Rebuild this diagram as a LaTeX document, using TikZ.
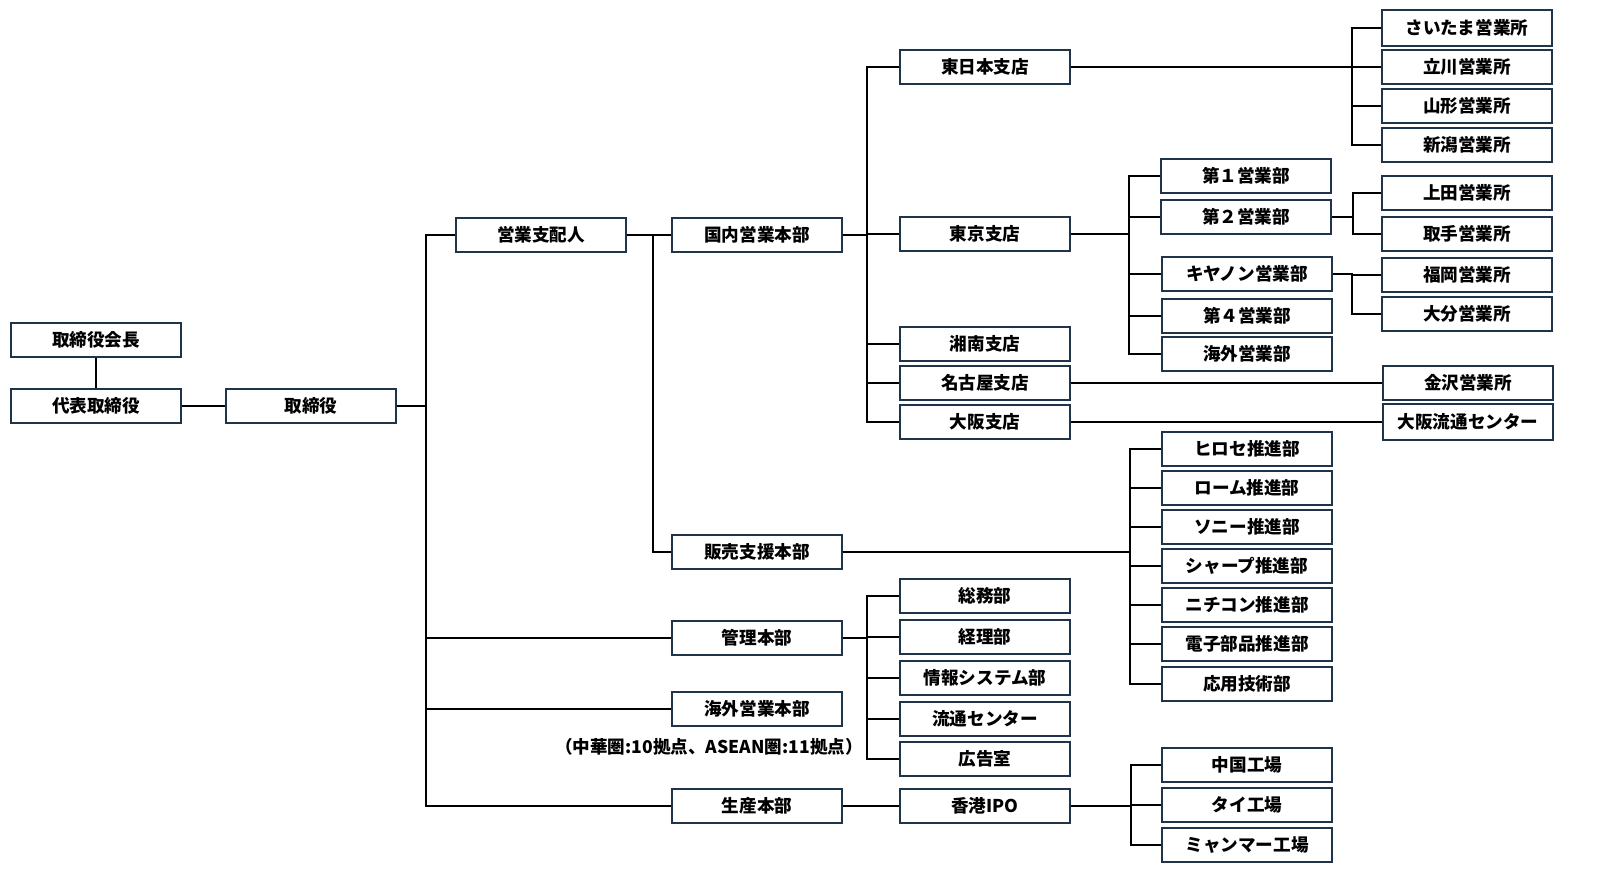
\documentclass[tikz,border=0pt]{standalone}
\usepackage{fontspec}
\setmainfont{Noto Sans CJK JP}
\definecolor{boxc}{HTML}{1F3349}
\tikzset{
  box/.style={draw=boxc, line width=1.1pt, fill=white, minimum width=127.5pt, minimum height=25.5pt, inner sep=0pt, font=\bfseries\fontsize{13.2}{14}\selectfont},
  conn/.style={line width=0.9pt, black},
  note/.style={inner sep=0pt, font=\bfseries\fontsize{13.2}{14}\selectfont}
}
\begin{document}
\begin{tikzpicture}[x=0.75pt,y=-0.75pt]
\useasboundingbox (0,0) rectangle (1606,891);
% bus coordinates
\coordinate (bT) at (426,0);
\coordinate (bS) at (653,0);
\coordinate (bK) at (867,0);
\coordinate (bH) at (1352,0);
\coordinate (bTk) at (1129,0);
\coordinate (bD2) at (1353,0);
\coordinate (bCa) at (1352,0);
\coordinate (bHb) at (1130,0);
\coordinate (bKr) at (867,0);
\coordinate (bHk) at (1131,0);
% nodes
\node[box] (kaicho) at (96,340) {取締役会長};
\node[box] (daihyo) at (96,406) {代表取締役};
\node[box] (tor) at (311,406) {取締役};
\node[box] (shihai) at (541,235) {営業支配人};
\node[box] (kokunai) at (757,235) {国内営業本部};
\node[box] (hanbai) at (757,552) {販売支援本部};
\node[box] (kanri) at (757,638) {管理本部};
\node[box] (kaigai) at (757,709) {海外営業本部};
\node[note] (kaigainote) at (709,747) {（中華圏:10拠点、ASEAN圏:11拠点）};
\node[box] (seisan) at (757,806) {生産本部};
% kokunai children
\node[box] (higashi) at (985,67) {東日本支店};
\node[box] (tokyo) at (985,234) {東京支店};
\node[box] (shonan) at (985,344) {湘南支店};
\node[box] (nagoya) at (985,383) {名古屋支店};
\node[box] (osaka) at (985,422) {大阪支店};
% higashi children
\node[box, minimum height=27pt] (saitama) at (1467,28) {さいたま営業所};
\node[box] (tachikawa) at (1467,67) {立川営業所};
\node[box] (yamagata) at (1467,106) {山形営業所};
\node[box] (niigata) at (1467,145) {新潟営業所};
% tokyo children
\node[box] (dai1) at (1246,176) {第１営業部};
\node[box] (dai2) at (1246,217) {第２営業部};
\node[box] (canon) at (1247,274) {キヤノン営業部};
\node[box] (dai4) at (1247,316) {第４営業部};
\node[box] (kaigaieigyo) at (1247,354) {海外営業部};
\node[box] (ueda) at (1467,193) {上田営業所};
\node[box] (toride) at (1467,234) {取手営業所};
\node[box] (fukuoka) at (1467,275) {福岡営業所};
\node[box] (oita) at (1467,314) {大分営業所};
\node[box] (kanazawa) at (1468,383) {金沢営業所};
\node[box, minimum height=27pt] (osakaryutsu) at (1468,422) {大阪流通センター};
% hanbai children
\node[box] (hirose) at (1247,449) {ヒロセ推進部};
\node[box] (rohm) at (1247,488) {ローム推進部};
\node[box] (sony) at (1247,527) {ソニー推進部};
\node[box] (sharp) at (1247,566) {シャープ推進部};
\node[box] (nichicon) at (1247,605) {ニチコン推進部};
\node[box] (denshi) at (1247,644) {電子部品推進部};
\node[box] (oyo) at (1247,684) {応用技術部};
% kanri children
\node[box] (somu) at (985,596) {総務部};
\node[box] (keiri) at (985,637) {経理部};
\node[box] (joho) at (985,678) {情報システム部};
\node[box] (ryutsu) at (985,719) {流通センター};
\node[box] (kokoku) at (985,759) {広告室};
% seisan children
\node[box] (hongkong) at (985,806) {香港IPO};
\node[box] (china) at (1247,765) {中国工場};
\node[box] (thai) at (1247,805) {タイ工場};
\node[box] (myanmar) at (1247,845) {ミャンマー工場};
% connectors
\draw[conn] (kaicho) -- (daihyo);
\draw[conn] (daihyo) -- (tor);
\foreach \c in {shihai,kanri,kaigai,seisan}
  \draw[conn] (tor.east) -- (tor.east -| bT) |- (\c.west);
\draw[conn] (shihai) -- (kokunai);
\draw[conn] (shihai.east -| bS) |- (hanbai.west);
\foreach \c in {higashi,tokyo,shonan,nagoya,osaka}
  \draw[conn] (kokunai.east) -- (kokunai.east -| bK) |- (\c.west);
\foreach \c in {saitama,tachikawa,yamagata,niigata}
  \draw[conn] (higashi.east) -- (higashi.east -| bH) |- (\c.west);
\foreach \c in {dai1,dai2,canon,dai4,kaigaieigyo}
  \draw[conn] (tokyo.east) -- (tokyo.east -| bTk) |- (\c.west);
\foreach \c in {ueda,toride}
  \draw[conn] (dai2.east) -- (dai2.east -| bD2) |- (\c.west);
\foreach \c in {fukuoka,oita}
  \draw[conn] (canon.east) -- (canon.east -| bCa) |- (\c.west);
\draw[conn] (nagoya) -- (kanazawa);
\draw[conn] (osaka) -- (osakaryutsu);
\foreach \c in {hirose,rohm,sony,sharp,nichicon,denshi,oyo}
  \draw[conn] (hanbai.east) -- (hanbai.east -| bHb) |- (\c.west);
\foreach \c in {somu,keiri,joho,ryutsu,kokoku}
  \draw[conn] (kanri.east) -- (kanri.east -| bKr) |- (\c.west);
\draw[conn] (seisan) -- (hongkong);
\foreach \c in {china,thai,myanmar}
  \draw[conn] (hongkong.east) -- (hongkong.east -| bHk) |- (\c.west);
\end{tikzpicture}
\end{document}
